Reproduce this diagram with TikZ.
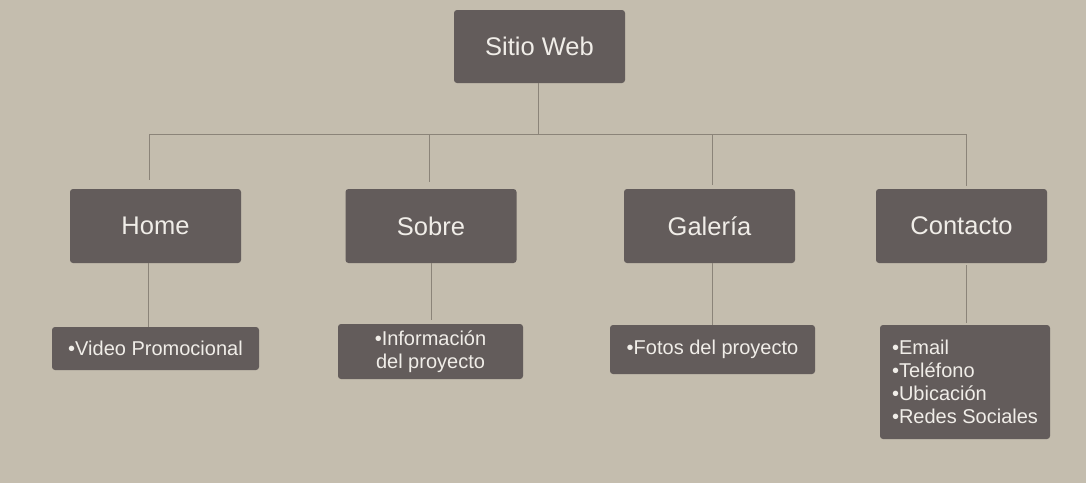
\documentclass[tikz,border=0pt]{standalone}
\usepackage{fontspec}
\setmainfont{Liberation Sans}
\definecolor{bgc}{HTML}{C4BDAE}
\definecolor{boxc}{HTML}{635C5B}
\definecolor{txtc}{HTML}{F0EDE8}
\definecolor{linec}{HTML}{8B8479}
\tikzset{
  topbox/.style={fill=boxc, rounded corners=3pt, text=txtc, inner sep=0pt,
    minimum width=171pt, minimum height=74pt, font=\fontsize{25.5}{28}\selectfont},
  leafbox/.style={fill=boxc, rounded corners=3pt, text=txtc, inner sep=0pt,
    font=\fontsize{20}{23}\selectfont},
  conn/.style={draw=linec, line width=1pt}
}
\begin{document}
\begin{tikzpicture}[x=1pt,y=-1pt]
\fill[bgc] (0,0) rectangle (1086,483);
\useasboundingbox (0,0) rectangle (1086,483);
% nodes
\node[topbox, minimum height=73pt] (root) at (539.5,46.5) {Sitio Web};
\node[topbox] (home) at (155.5,226) {Home};
\node[topbox] (sobre) at (431,226) {Sobre};
\node[topbox] (gal) at (709.5,226) {Galería};
\node[topbox] (cont) at (961.5,226) {Contacto};
\node[leafbox, minimum width=207pt, minimum height=43pt] (vid) at (155.5,348.5) {•Video Promocional};
\node[leafbox, minimum width=185pt, minimum height=55pt, align=center] (info) at (430.5,351.5) {•Información\\del proyecto};
\node[leafbox, minimum width=205pt, minimum height=49pt] (fotos) at (712.5,349.5) {•Fotos del proyecto};
\node[leafbox, minimum width=170pt, minimum height=114pt, align=left] (lista) at (965,382) {•Email\\•Teléfono\\•Ubicación\\•Redes Sociales};
% junction coordinates
\coordinate (rj) at (538,134);
\coordinate (j1) at (149,134);
\coordinate (j2) at (429,134);
\coordinate (j3) at (712,134);
\coordinate (j4) at (966,134);
\coordinate (c1) at (148,263);
\coordinate (c2) at (431,263);
\coordinate (c3) at (712,263);
\coordinate (c4) at (966,263);
% connectors
\draw[conn] (root.south -| rj) -- (rj);
\draw[conn] (j1) -- (j4);
\draw[conn, shorten >=9pt] (j1) -- (j1 |- home.north);
\draw[conn, shorten >=7pt] (j2) -- (j2 |- sobre.north);
\draw[conn, shorten >=4pt] (j3) -- (j3 |- gal.north);
\draw[conn, shorten >=3pt] (j4) -- (j4 |- cont.north);
\draw[conn] (c1) -- (c1 |- vid.north);
\draw[conn, shorten >=4pt] (c2) -- (c2 |- info.north);
\draw[conn] (c3) -- (c3 |- fotos.north);
\draw[conn, shorten <=2pt, shorten >=2pt] (c4) -- (c4 |- lista.north);
\end{tikzpicture}
\end{document}
